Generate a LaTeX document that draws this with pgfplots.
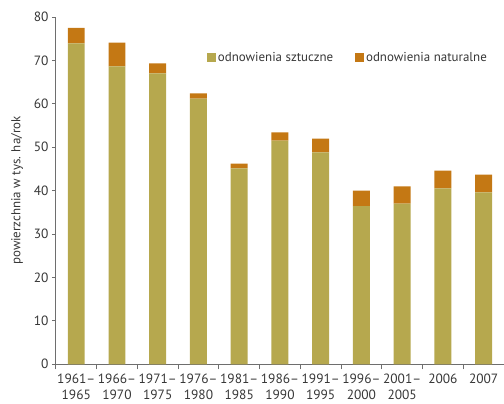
\documentclass[border=0pt]{standalone}
\usepackage{fontspec}
\setmainfont{PT Sans}
\usepackage{pgfplots}
\pgfplotsset{compat=1.18}
\usetikzlibrary{calc}
\definecolor{sztuczne}{RGB}{182,168,78}
\definecolor{naturalne}{RGB}{196,120,20}
\definecolor{axisgray}{RGB}{110,110,110}
\definecolor{txtgray}{RGB}{55,55,55}
\newcommand{\lbl}{\fontsize{13}{16}\selectfont}
\newcommand{\tlbl}{\fontsize{13.5}{16}\selectfont}
\begin{document}
\begin{tikzpicture}
\begin{axis}[
  scale only axis,
  width=449bp, height=348bp,
  ybar stacked,
  bar width=17bp,
  xmin=-0.5, xmax=10.5,
  ymin=0, ymax=80,
  ytick={0,10,...,80},
  xtick={0,...,10},
  xticklabels={{1961--\\1965},{1966--\\1970},{1971--\\1975},{1976--\\1980},{1981--\\1985},
               {1986--\\1990},{1991--\\1995},{1996--\\2000},{2001--\\2005},2006,2007},
  minor xtick={-0.5,0.5,...,10.5},
  axis lines*=left,
  axis line style={axisgray, line width=1.2pt, -},
  tick align=outside,
  major tick length=4bp,
  minor tick length=5bp,
  x tick style={draw=none},
  minor x tick style={draw=axisgray, line width=0.8pt},
  y tick style={axisgray, line width=0.8pt},
  /pgf/number format/assume math mode=true,
  ticklabel style={font=\tlbl, text=txtgray},
  x tick label style={align=center, yshift=-2bp},
  ylabel={powierzchnia w tys. ha/rok},
  ylabel style={font=\lbl, text=txtgray, yshift=4bp},
  legend style={draw=none, fill=none, font=\lbl, text=txtgray,
    at={(0.33,0.882)}, anchor=west, legend columns=2,
    /tikz/every even column/.append style={column sep=20bp}},
  legend image code/.code={\fill[#1] (0bp,-4.5bp) rectangle (9bp,4.5bp);},
]
\addplot[fill=sztuczne, draw=none] coordinates
  {(0,73.9) (1,68.6) (2,67.0) (3,61.2) (4,45.1) (5,51.5)
   (6,48.8) (7,36.4) (8,37.0) (9,40.5) (10,39.6)};
\addplot[fill=naturalne, draw=none] coordinates
  {(0,3.6) (1,5.5) (2,2.3) (3,1.2) (4,1.1) (5,1.9)
   (6,3.2) (7,3.6) (8,4.0) (9,4.1) (10,4.1)};
\legend{odnowienia sztuczne, odnowienia naturalne}
\end{axis}
\pgfresetboundingbox
\path[use as bounding box] ($(current axis.south west)+(-56bp,-39bp)$)
  rectangle ($(current axis.north east)+(0bp,17bp)$);
\end{tikzpicture}
\end{document}
